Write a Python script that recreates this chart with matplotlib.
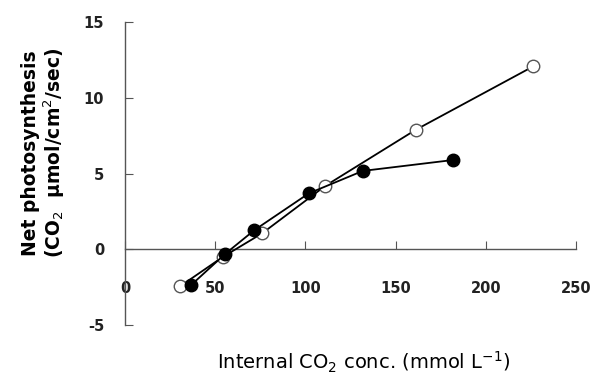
import matplotlib
matplotlib.use("Agg")
import matplotlib.pyplot as plt

plt.rcParams['axes.unicode_minus'] = False

open_x = [30.5, 54.3, 75.9, 111.1, 161.1, 226.3]
open_y = [-2.45, -0.5, 1.04, 4.19, 7.88, 12.07]
filled_x = [36.5, 55.7, 71.7, 101.9, 131.8, 181.8]
filled_y = [-2.38, -0.29, 1.26, 3.69, 5.17, 5.89]

x_ticks = [0, 50, 100, 150, 200, 250]
y_ticks = [-5, 0, 5, 10, 15]

fig = plt.figure(figsize=(5.93, 3.76), dpi=100)
ax = fig.add_axes([125/593, 1-325/376, (576-125)/593, (325-22)/376])

ax.plot(open_x, open_y, '-o', color='black', lw=1.3, ms=9,
        markerfacecolor='white', markeredgecolor='#555555', markeredgewidth=1.0, zorder=3)
ax.plot(filled_x, filled_y, '-o', color='black', lw=1.3, ms=9,
        markerfacecolor='black', markeredgecolor='black', zorder=4)

ax.set_xlim(0, 250)
ax.set_ylim(-5, 15)
ax.spines['top'].set_visible(False)
ax.spines['right'].set_visible(False)
ax.spines['bottom'].set_position(('data', 0))
for s in ('left', 'bottom'):
    ax.spines[s].set_color('#555555')
    ax.spines[s].set_linewidth(1.0)
ax.set_xticks(x_ticks)
ax.set_yticks(y_ticks)
ax.tick_params(axis='y', direction='in', length=6, color='#555555', pad=15)
ax.tick_params(axis='x', direction='in', length=6, color='#555555', pad=23)
for lab in ax.get_xticklabels() + ax.get_yticklabels():
    lab.set_fontweight('bold')
    lab.set_fontsize(10.5)
    lab.set_color('#222222')
ax.patch.set_alpha(0)

fig.text(0.052, 1-153/376, "Net photosynthesis", rotation=90, ha='center', va='center',
         fontsize=13.5, fontweight='bold')
fig.text(0.092, 1-153/376, "(CO$_2$  \u03bcmol/cm$^2$/sec)", rotation=90, ha='center', va='center',
         fontsize=13.5, fontweight='bold')
fig.text(364/593, 1-362/376, "Internal CO$_2$ conc. (mmol L$^{-1}$)", ha='center', va='center',
         fontsize=14)

fig.savefig("out.png", dpi=100)
